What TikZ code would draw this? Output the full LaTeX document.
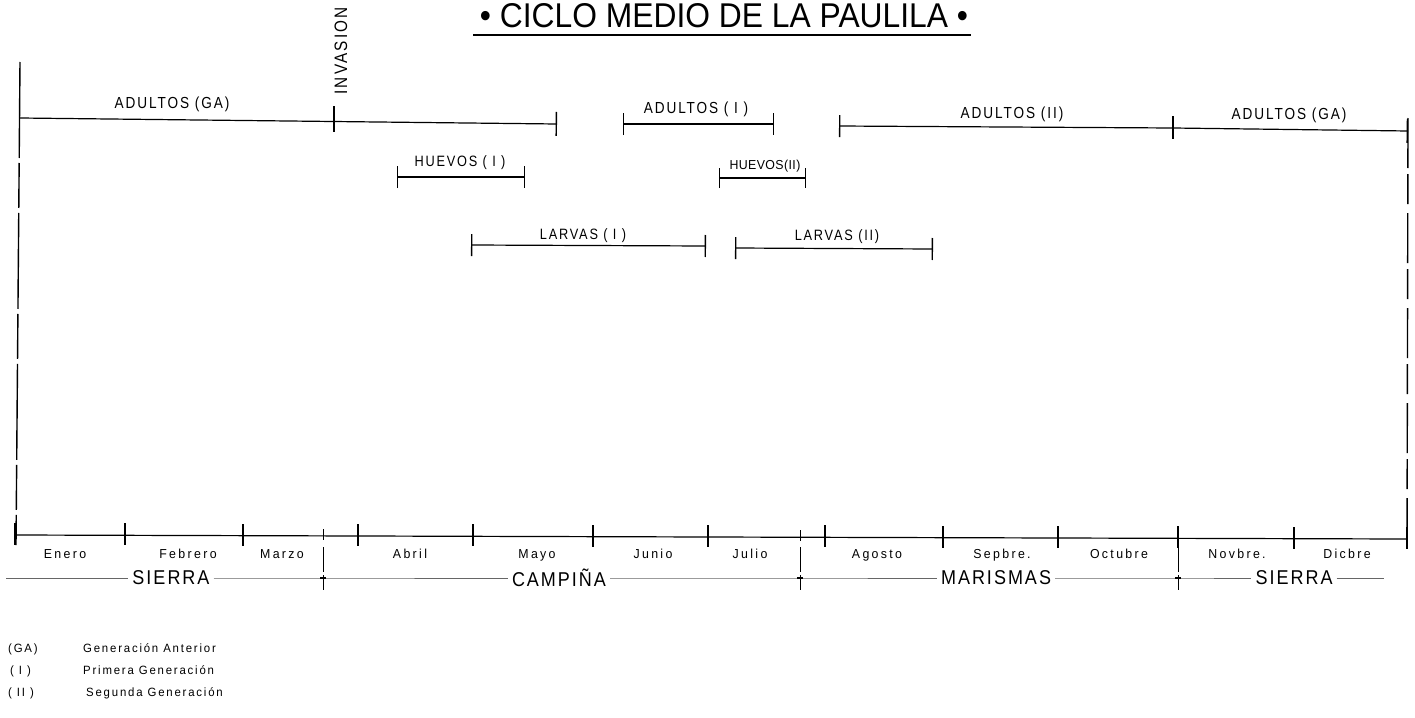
\documentclass[tikz,border=0pt]{standalone}
\usepackage{fontspec}
\setmainfont{Liberation Sans}
\newfontfamily\lblfont[FakeStretch=0.85,LetterSpace=12]{Liberation Sans}
\newfontfamily\monfont[FakeStretch=0.95,LetterSpace=18]{Liberation Sans}
\newfontfamily\regfont[FakeStretch=0.9,LetterSpace=10]{Liberation Sans}
\newfontfamily\ttlfont{Liberation Sans}
\usetikzlibrary{arrows.meta}
\begin{document}
\begin{tikzpicture}[x=1pt,y=-1pt,
  ln/.style={line width=1.2pt},
  bb/.style={ln,{Bar[width=22pt,line width=1.4pt]}-{Bar[width=22pt,line width=1.4pt]}},
  be/.style={ln,-{Bar[width=24pt,line width=1.4pt]}},
  bs/.style={ln,{Bar[width=22pt,line width=1.4pt]}-},
  tk/.style={line width=1.4pt},
  frame/.style={line width=1.4pt},
  lbl/.style={font=\lblfont\fontsize{15}{15}\selectfont,inner sep=0pt,anchor=base},
  albl/.style={font=\lblfont\fontsize{16}{16}\selectfont,inner sep=0pt,anchor=base},
  mon/.style={font=\monfont\fontsize{13}{13}\selectfont,inner sep=0pt,anchor=base},
  reg/.style={font=\regfont\fontsize{20}{20}\selectfont,inner sep=4pt},
  rline/.style={line width=1pt,black!60},
  leg/.style={font=\monfont\fontsize{12}{12}\selectfont\addfontfeature{LetterSpace=15},inner sep=0pt,anchor=base west},
  divl/.style={line width=1pt}
]
\useasboundingbox (0,0) rectangle (1415,717);

% title
\node[inner sep=0pt,anchor=base] (title) at (724,28)
  {\resizebox{488pt}{24pt}{\ttlfont • CICLO MEDIO DE LA PAULILA •}};
\coordinate (ul1) at (473,35);
\coordinate (ul2) at (971,35);
\draw[line width=1.4pt] (ul1) -- (ul2);

% frame
\coordinate (fl1) at (20,62);
\coordinate (fl2) at (16,545);
\coordinate (fr1) at (1408,118);
\coordinate (fr2) at (1407,545);
\draw[frame,dash pattern=on 96pt off 5pt on 45pt off 5pt] (fl1) -- (fl2);
\draw[frame,dash pattern=on 50pt off 6pt on 30pt off 9pt] (fr1) -- (fr2);

% INVASION
\node[anchor=center,inner sep=0pt,rotate=90,font=\lblfont\fontsize{18}{18}\selectfont] (inv) at (341,51) {INVASION};
\coordinate (iv1) at (334,106);
\coordinate (iv2) at (334,132);
\draw[tk] (iv1) -- (iv2);

% adultos
\coordinate (ag1s) at (20,118);
\coordinate (ag1e) at (557,124);
\draw[be] (ag1s) -- (ag1e);
\node[albl] (lag1) at (172,108) {ADULTOS (GA)};

\coordinate (a1s) at (623,124);
\coordinate (a1e) at (774,124);
\draw[bb] (a1s) -- (a1e);
\node[albl] (la1) at (696,113) {ADULTOS ( I )};

\coordinate (a2s) at (839,126);
\coordinate (a2e) at (1173,128);
\draw[bs] (a2s) -- (a2e);
\node[albl] (la2) at (1012,118) {ADULTOS (II)};
\coordinate (a2t1) at (1173,116);
\coordinate (a2t2) at (1173,139);
\draw[tk] (a2t1) -- (a2t2);

\coordinate (ag2e) at (1408,131);
\draw[be] (a2e) -- (ag2e);
\node[albl] (lag2) at (1289,119) {ADULTOS (GA)};

% huevos
\coordinate (h1s) at (397,177);
\coordinate (h1e) at (525,177);
\draw[bb] (h1s) -- (h1e);
\node[lbl] (lh1) at (460,166) {HUEVOS ( I )};

\coordinate (h2s) at (719,178);
\coordinate (h2e) at (806,178);
\draw[ln,{Bar[width=20pt,line width=1.4pt]}-{Bar[width=20pt,line width=1.4pt]}] (h2s) -- (h2e);
\node[inner sep=0pt,anchor=base,font=\monfont\fontsize{13}{13}\selectfont\addfontfeature{LetterSpace=3}] (lh2) at (765,169) {HUEVOS(II)};

% larvas
\coordinate (l1s) at (471,245);
\coordinate (l1e) at (706,246);
\draw[bb] (l1s) -- (l1e);
\node[lbl] (ll1) at (583,239) {LARVAS ( I )};

\coordinate (l2s) at (735,248);
\coordinate (l2e) at (933,249);
\draw[bb] (l2s) -- (l2e);
\node[lbl] (ll2) at (837,240) {LARVAS (II)};

% month axis
\coordinate (ax1) at (15,535);
\coordinate (ax2) at (1407,539);
\draw[ln] (ax1) -- (ax2);
\foreach \x/\y in {15/535,125/535,243/536,358/536,473/536,593/537,708/537,825/537,943/538,1058/538,1178/538,1294/539,1407/539}{
  \draw[tk] (\x,\y-12) -- (\x,\y+10);
}
\foreach \x/\y in {323/536,800/537}{
  \draw[divl] (\x,\y-7) -- (\x,\y+4);
}
\foreach \x/\t in {65/Enero,188/Febrero,282/Marzo,410/Abril,537/Mayo,653/Junio,750/Julio,877/Agosto,1002/Sepbre.,1119/Octubre,1237/Novbre.,1347/Dicbre}{
  \node[mon] at (\x,558) {\t};
}

% regions
\node[reg] (r1) at (171,578) {SIERRA};
\node[reg] (r2) at (559,578) {CAMPIÑA};
\node[reg] (r3) at (996,578) {MARISMAS};
\node[reg] (r4) at (1294,578) {SIERRA};
\coordinate (rl0) at (6,578);
\coordinate (rd1) at (323,578);
\coordinate (rd2) at (800,578);
\coordinate (rd3) at (1178,578);
\coordinate (rl5) at (1384,578);
\draw[rline] (rl0) -- (r1.west);
\draw[rline] (r1.east) -- (rd1) -- (r2.west);
\draw[rline] (r2.east) -- (rd2) -- (r3.west);
\draw[rline] (r3.east) -- (rd3) -- (r4.west);
\draw[rline] (r4.east) -- (rl5);
\foreach \c in {rd1,rd2,rd3}{
  \draw[divl] ([yshift=31pt]\c) -- ([yshift=6pt]\c);
  \draw[divl] ([yshift=3pt]\c) -- ([yshift=-12pt]\c);
  \draw[line width=1.8pt] ([xshift=-3pt]\c) -- ([xshift=3pt]\c);
}

% legend
\node[leg] (lg1) at (8,652) {(GA)};
\node[leg] (lg1t) at (83,652) {Generación Anterior};
\node[leg] (lg2) at (10,674) {( I )};
\node[leg] (lg2t) at (83,674) {Primera Generación};
\node[leg] (lg3) at (8,696) {( II )};
\node[leg] (lg3t) at (86,696) {Segunda Generación};
\end{tikzpicture}
\end{document}
